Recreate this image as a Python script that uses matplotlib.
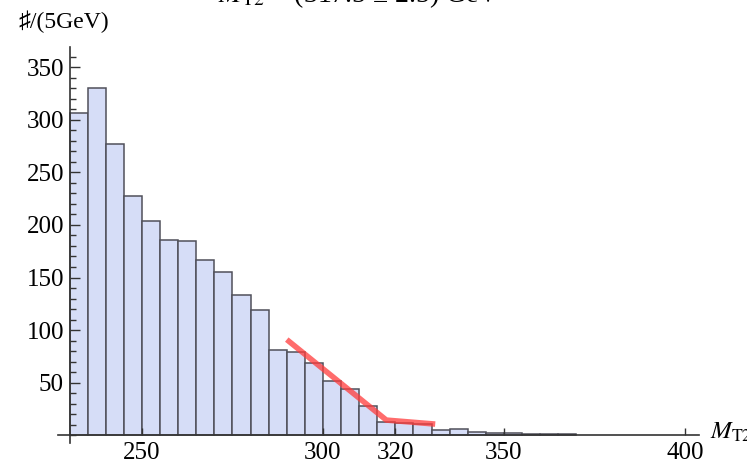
import matplotlib
matplotlib.use("Agg")
import matplotlib.pyplot as plt
from matplotlib.ticker import MultipleLocator, FixedLocator

plt.rcParams['font.family'] = ['Liberation Serif', 'DejaVu Serif', 'DejaVu Sans']
plt.rcParams['mathtext.fontset'] = 'stix'

# Histogram of M_T2, 5 GeV bins
bin_left = [230, 235, 240, 245, 250, 255, 260, 265, 270, 275,
            280, 285, 290, 295, 300, 305, 310, 315, 320, 325,
            330, 335, 340, 345, 350, 355, 360, 365]
counts = [306, 330, 277, 227, 204, 186, 185, 167, 155, 133,
          119, 81, 79, 69, 52, 44, 28, 13, 12, 11,
          5, 6, 3, 2, 2, 1, 1, 1]
bin_width = 5

# Endpoint fit: falling linear piece + flat background
fit_x = [290, 317.5, 331]
fit_y = [91, 14.5, 10.7]

x_ticks = [250, 300, 320, 350, 400]
y_ticks = [50, 100, 150, 200, 250, 300, 350]

fig = plt.figure(figsize=(7.47, 4.66), dpi=100)
ax = fig.add_axes([0.0776, 0.05, 0.8588, 0.849])
ax.set_axisbelow(False)

ax.bar(bin_left, counts, width=bin_width, align='edge',
       facecolor='#d6ddf7', edgecolor='#50505a', linewidth=1.1, zorder=1)
ax.plot(fit_x, fit_y, color='#ff3b3b', alpha=0.75, lw=4,
        solid_capstyle='butt', zorder=3)

ax.set_xlim(226.8, 404)
ax.set_ylim(-7, 369)

for s in ['top', 'right']:
    ax.spines[s].set_visible(False)
ax.spines['left'].set_position(('data', 230))
ax.spines['bottom'].set_position(('data', 0))
for s in ['left', 'bottom']:
    ax.spines[s].set_color('#333333')
    ax.spines[s].set_linewidth(1.2)
    ax.spines[s].set_zorder(4)

ax.xaxis.set_major_locator(FixedLocator(x_ticks))
ax.set_xticklabels([str(v) for v in x_ticks])
ax.yaxis.set_major_locator(FixedLocator(y_ticks))
ax.set_yticklabels([str(v) for v in y_ticks])
ax.yaxis.set_minor_locator(MultipleLocator(10))

ax.tick_params(axis='x', which='major', direction='in', length=5, width=1,
               color='#333333', labelsize=18, pad=5)
ax.tick_params(axis='y', which='major', direction='in', length=7, width=1,
               color='#333333', labelsize=18, pad=4)
ax.tick_params(axis='y', which='minor', direction='in', length=4, width=1,
               color='#333333')

fig.text(18 / 747, 1 - 22 / 466, '♯/(5GeV)', fontsize=17,
         ha='left', va='center')
fig.text(710 / 747, 1 - 432 / 466, r'$M_{\mathrm{T2}}$', fontsize=18,
         ha='left', va='center')
fig.text(218 / 747, 1 - 2 / 466,
         r'$M_{\mathrm{T2}}$ = (317.5 ± 2.5) GeV', fontsize=20,
         ha='left', va='baseline')

fig.savefig('out.png', dpi=100)
